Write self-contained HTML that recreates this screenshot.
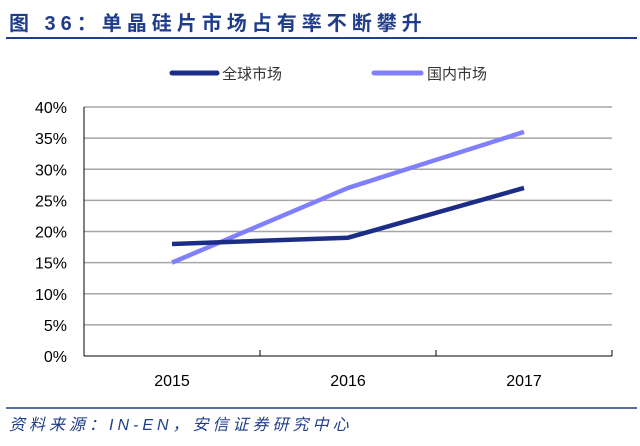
<!DOCTYPE html>
<html><head><meta charset="utf-8"><style>
body{margin:0;background:#fff;width:640px;height:441px;overflow:hidden;font-family:"Liberation Sans","Noto Sans CJK SC",sans-serif}
</style></head><body>
<svg width="640" height="441" xmlns="http://www.w3.org/2000/svg">
<text x="9" y="30" font-size="20" font-weight="bold" fill="#1f3d8a" letter-spacing="5" font-family="Liberation Sans,Noto Sans CJK SC,sans-serif">图 36：单晶硅片市场占有率不断攀升</text>
<line x1="6" y1="38" x2="637" y2="38" stroke="#1f3d8a" stroke-width="2"/>
<g>
<line x1="172" y1="73" x2="217" y2="73" stroke="#1c2d86" stroke-width="5" stroke-linecap="round"/>
<text x="222" y="79" font-size="15" fill="#333">全球市场</text>
<line x1="374" y1="73" x2="421" y2="73" stroke="#8080ff" stroke-width="5" stroke-linecap="round"/>
<text x="427" y="79" font-size="15" fill="#333">国内市场</text>
</g>
<g id="grid"></g><g id="ax"></g><g id="series"></g>
<line x1="6" y1="408" x2="637" y2="408" stroke="#1f3d8a" stroke-width="1.5"/>
<text x="9" y="430" font-size="16" font-style="italic" letter-spacing="4" fill="#1f3d8a">资料来源：IN-EN，安信证券研究中心</text>
</svg>
<script>
const categories=["2015","2016","2017"];
const globalShare=[18,19,27];
const domesticShare=[15,27,36];
const yTicks=[0,5,10,15,20,25,30,35,40];
const NS="http://www.w3.org/2000/svg";
const x0=84,x1=612,yb=356,yt=107,ymax=40;
const band=(x1-x0)/categories.length;
const xs=i=>x0+band*(i+0.5);
const ys=v=>yb-(v/ymax)*(yb-yt);
function mk(t,a,p){const e=document.createElementNS(NS,t);for(const k in a)e.setAttribute(k,a[k]);p.appendChild(e);return e;}
const grid=document.getElementById('grid'),ax=document.getElementById('ax'),ser=document.getElementById('series');
yTicks.forEach(v=>{
 if(v>0){const g=mk('line',{x1:x0,x2:x1,y1:ys(v),y2:ys(v),stroke:'#a6a6a6','stroke-width':1.5},grid);
 
 }
 const t=mk('text',{x:67,y:ys(v)+6,'text-anchor':'end','font-size':16,fill:'#000'},ax);t.textContent=v+'%';
 
 
});
const ya=mk('line',{x1:x0,x2:x0,y1:yt,y2:yb,stroke:'#000','stroke-width':1},ax);


const xa=mk('line',{x1:x0,x2:x1,y1:yb,y2:yb,stroke:'#000','stroke-width':1},ax);


for(let i=1;i<=categories.length;i++){const tk=mk('line',{x1:x0+band*i,x2:x0+band*i,y1:yb-6,y2:yb,stroke:'#000'},ax);
 
 }
categories.forEach((c,i)=>{const t=mk('text',{x:xs(i),y:yb+30,'text-anchor':'middle','font-size':16,fill:'#000'},ax);t.textContent=c;
 
 });
function line(d,col,name){const p=mk('polyline',{points:d.map((v,i)=>xs(i)+','+ys(v)).join(' '),fill:'none',stroke:col,'stroke-width':4.5,'stroke-linejoin':'round'},ser);
 
 }
line(domesticShare,'#8080ff','series-domestic-line');
line(globalShare,'#1c2d86','series-global-line');
</script>
</body></html>
